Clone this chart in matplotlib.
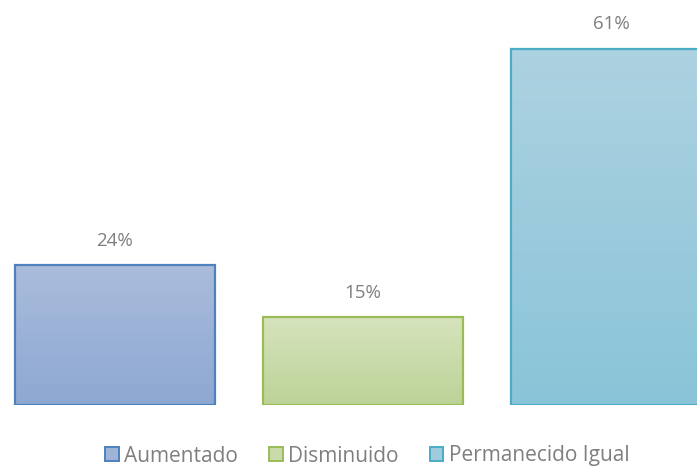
import matplotlib
matplotlib.use("Agg")
import matplotlib.pyplot as plt
import numpy as np
from matplotlib.patches import Patch
from matplotlib.colors import LinearSegmentedColormap

categories = ["Aumentado", "Disminuido", "Permanecido Igual"]
values = [24, 15, 61]
labels = ["24%", "15%", "61%"]
top_colors = ["#AABCDB", "#D6E3BC", "#ADD2E1"]
bottom_colors = ["#8DA8D2", "#BCD398", "#8AC4D8"]
edge_colors = ["#4F81BD", "#9BBB59", "#4BACC6"]
legend_colors = ["#9EB4D8", "#C9DBAB", "#9ECCDD"]

plt.rcParams['font.family'] = ['Open Sans', 'DejaVu Sans']

W, H = 697, 467
fig = plt.figure(figsize=(W / 100, H / 100), dpi=100)
px_per_unit = 248.0
center0 = 115.0
bottom_px = 405.0
px_per_pct = 5.84

ax = fig.add_axes([0, (H - bottom_px) / H, 1, bottom_px / H])
ax.set_xlim(-center0 / px_per_unit, (W - center0) / px_per_unit)
ax.set_ylim(0, bottom_px / px_per_pct)
ax.axis('off')

width = 200 / px_per_unit
x = np.arange(len(categories))
bars = ax.bar(x, values, width=width, facecolor='none', edgecolor='none', zorder=2)

for i, b in enumerate(bars):
    cmap = LinearSegmentedColormap.from_list(f"g{i}", [bottom_colors[i], top_colors[i]])
    grad = np.linspace(0, 1, 256).reshape(-1, 1)
    x0, y0 = b.get_x(), b.get_y()
    w, h = b.get_width(), b.get_height()
    im = ax.imshow(grad, cmap=cmap, origin='lower', aspect='auto',
                   extent=[x0, x0 + w, y0, y0 + h], zorder=1)
    im.set_clip_path(b)
    ax.add_patch(plt.Rectangle((x0, y0), w, h, facecolor='none',
                               edgecolor=edge_colors[i], linewidth=1.6, zorder=3,
                               clip_on=True))
    ax.annotate(labels[i], (b.get_x() + w / 2, h), xytext=(0, 11),
                textcoords='offset points', ha='center', va='bottom',
                fontsize=13.5, color='#7F7F7F')
ax.set_xlim(-center0 / px_per_unit, (W - center0) / px_per_unit)

handles = [Patch(facecolor=legend_colors[i], edgecolor=edge_colors[i], linewidth=1.4)
           for i in range(len(categories))]
leg = fig.legend(handles, categories, loc='center', bbox_to_anchor=(367 / W, 1 - 456 / H),
                 ncol=3, frameon=False, fontsize=15, handlelength=0.66, handleheight=0.66,
                 handletextpad=0.25, columnspacing=1.5, labelcolor='#7F7F7F')

fig.savefig("out.png", dpi=100)
